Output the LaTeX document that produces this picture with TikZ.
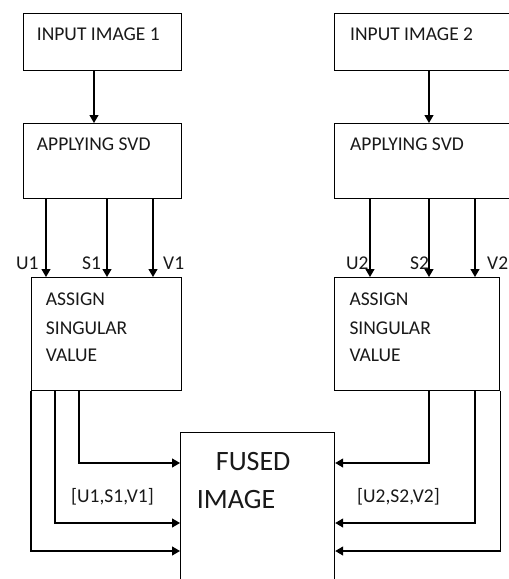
\documentclass[tikz,border=0pt]{standalone}
\usepackage{fontspec}
\setmainfont{Carlito}
\usetikzlibrary{arrows.meta}
\begin{document}
\begin{tikzpicture}[x=1pt,y=-1pt,
  box/.style={draw=black,line width=1.2pt,fill=white,inner sep=0pt,anchor=north west},
  txt/.style={inner sep=0pt,anchor=base west,text=black!90,font=\fontsize{19.5}{28.5}\selectfont},
  big/.style={inner sep=0pt,anchor=base west,text=black!90,font=\fontsize{28}{36}\selectfont},
  arr/.style={draw=black,line width=1.2pt,-{Triangle[length=8pt,width=9pt]}}]
\useasboundingbox (0,0) rectangle (509,579);
\clip (0,0) rectangle (509,579);
\fill[white] (0,0) rectangle (509,579);

% left column
\node[box,minimum width=158pt,minimum height=57pt] (in1) at (23,13) {};
\node[box,minimum width=158pt,minimum height=75pt] (svd1) at (23,123) {};
\node[box,minimum width=150pt,minimum height=113pt] (asg1) at (31,277) {};
% right column (runs off the right edge)
\node[box,minimum width=180pt,minimum height=57pt] (in2) at (334,13) {};
\node[box,minimum width=180pt,minimum height=75pt] (svd2) at (334,123) {};
\node[box,minimum width=165pt,minimum height=113pt] (asg2) at (334,277) {};
% fused output (bottom below the page)
\node[box,minimum width=154pt,minimum height=180pt] (fused) at (180,432) {};

% box texts
\node[txt] at (36.7,40.5) {INPUT IMAGE 1};
\node[txt] at (350,40.5) {INPUT IMAGE 2};
\node[txt] at (36.7,150.5) {APPLYING SVD};
\node[txt] at (350,150.5) {APPLYING SVD};
\node[txt] at (45.7,305) {ASSIGN};
\node[txt] at (45.7,334) {SINGULAR};
\node[txt] at (45.7,361) {VALUE};
\node[txt] at (349.3,305) {ASSIGN};
\node[txt] at (349.3,334) {SINGULAR};
\node[txt] at (349.3,361) {VALUE};
\node[big] at (215.7,470) {FUSED};
\node[big] at (196.7,508.5) {IMAGE};

% input -> svd
\draw[arr] (in1.south -| 94,0) -- (svd1.north -| 94,0);
\draw[arr] (in2.south -| 429,0) -- (svd2.north -| 429,0);

% svd -> assign
\draw[arr] (svd1.south -| 46,0) -- (asg1.north -| 46,0);
\draw[arr] (svd1.south -| 107,0) -- (asg1.north -| 107,0);
\draw[arr] (svd1.south -| 153,0) -- (asg1.north -| 153,0);
\draw[arr] (svd2.south -| 370,0) -- (asg2.north -| 370,0);
\draw[arr] (svd2.south -| 429,0) -- (asg2.north -| 429,0);
\draw[arr] (svd2.south -| 475,0) -- (asg2.north -| 475,0);

% component labels
\node[txt] at (16,269) {U1};
\node[txt] at (82,269) {S1};
\node[txt] at (163,269) {V1};
\node[txt] at (346,269) {U2};
\node[txt] at (410,269) {S2};
\node[txt] at (487,269) {V2};

% assign -> fused
\draw[arr] (asg1.south -| 79,0) |- (fused.west |- 0,463);
\draw[arr] (asg1.south -| 55,0) |- (fused.west |- 0,523);
\draw[arr] (asg1.south west) |- (fused.west |- 0,551);
\draw[arr] (asg2.south -| 429,0) |- (fused.east |- 0,463);
\draw[arr] (asg2.south -| 475,0) |- (fused.east |- 0,523);
\draw[arr] (asg2.south east) |- (fused.east |- 0,551);

\node[txt] at (71,502) {[U1,S1,V1]};
\node[txt] at (357,502) {[U2,S2,V2]};
\end{tikzpicture}
\end{document}
